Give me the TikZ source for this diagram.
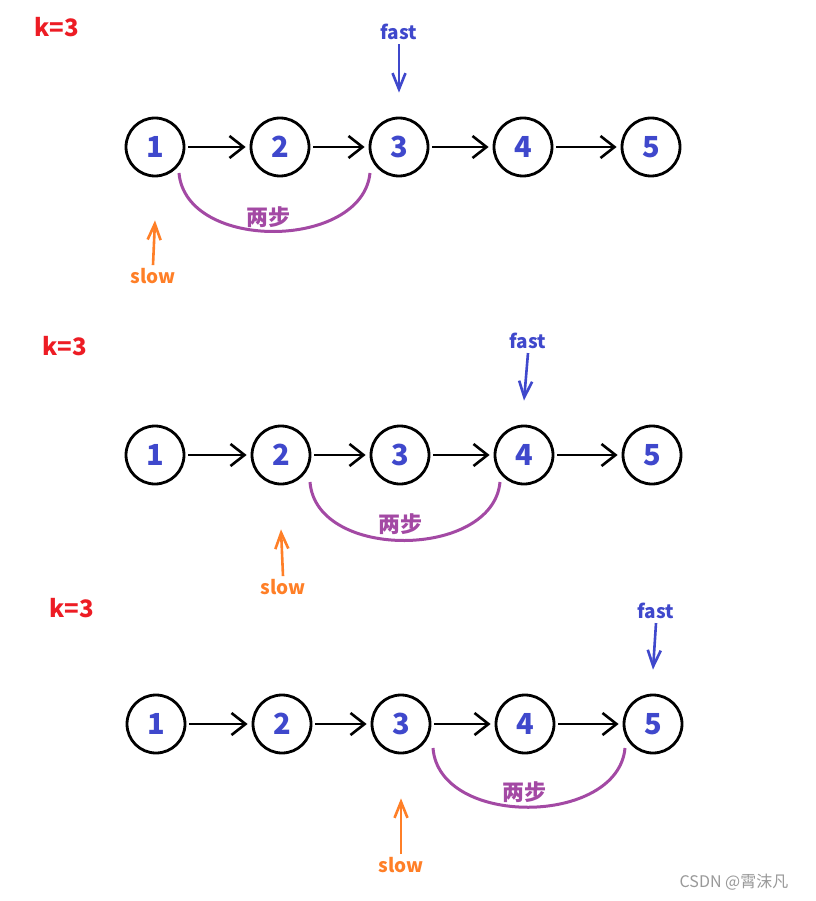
\documentclass[tikz,border=0pt]{standalone}
\usepackage{fontspec}
\setmainfont{Noto Sans CJK SC}
\usetikzlibrary{arrows.meta}
\definecolor{numblue}{HTML}{3F48CC}
\definecolor{kred}{HTML}{ED1C24}
\definecolor{sorange}{HTML}{FF7F27}
\definecolor{spurple}{HTML}{A349A4}
\tikzset{
  listnode/.style={circle, draw=black, line width=2.8pt, minimum size=58pt, inner sep=0pt,
    text=numblue, font=\fontsize{29}{30}\selectfont\bfseries},
  nextlink/.style={line width=2.6pt, -{Straight Barb[length=14pt,width=22pt,line width=2.6pt]},
    shorten <=3pt, shorten >=4pt},
  klabel/.style={text=kred, font=\fontsize{24}{25}\selectfont\bfseries},
  fastlabel/.style={text=numblue, font=\fontsize{19}{20}\selectfont\bfseries, inner sep=1pt},
  slowlabel/.style={text=sorange, font=\fontsize{19}{20}\selectfont\bfseries, inner sep=1pt},
  fastptr/.style={draw=numblue, line width=2.6pt, -{Straight Barb[length=16pt,width=13pt,line width=2.6pt]}},
  slowptr/.style={draw=sorange, line width=2.6pt, -{Straight Barb[length=16pt,width=13pt,line width=2.6pt]}},
  steparc/.style={draw=spurple, line width=3pt},
  steplabel/.style={text=spurple, font=\fontsize{22}{23}\selectfont\bfseries},
  mark wm/.style={text=gray!80, font=\fontsize{16}{17}\selectfont}
}
\begin{document}
\begin{tikzpicture}[x=1pt,y=-1pt]
\useasboundingbox (0,0) rectangle (815,901);
\fill[white] (0,0) rectangle (815,901);

% ---------- Row 1 ----------
\node[klabel] (k1) at (57,27) {k=3};
\node[listnode] (a1) at (155,147) {1};
\node[listnode] (a2) at (280,147) {2};
\node[listnode] (a3) at (399,147) {3};
\node[listnode] (a4) at (523,147) {4};
\node[listnode] (a5) at (651,147) {5};
\draw[nextlink] (a1) -- (a2);
\draw[nextlink] (a2) -- (a3);
\draw[nextlink] (a3) -- (a4);
\draw[nextlink] (a4) -- (a5);
\node[fastlabel] (f1) at (399,32) {fast};
\draw[fastptr] ([yshift=-3pt]f1.south) -- ([yshift=24pt]a3.north);
\node[slowlabel] (s1) at (153,276) {slow};
\draw[slowptr] ([yshift=2pt]s1.north) -- ([yshift=-43pt]a1.south);
\coordinate (a1s) at (179,173);
\coordinate (a3s) at (370,173);
\draw[steparc] (a1s) .. controls (186,252) and (362,250) .. (a3s);
\node[steplabel] (t1) at (268,217) {两步};

% ---------- Row 2 ----------
\node[klabel] (k2) at (65,346) {k=3};
\node[listnode] (b1) at (155,455) {1};
\node[listnode] (b2) at (281,455) {2};
\node[listnode] (b3) at (400,455) {3};
\node[listnode] (b4) at (524,455) {4};
\node[listnode] (b5) at (652,455) {5};
\draw[nextlink] (b1) -- (b2);
\draw[nextlink] (b2) -- (b3);
\draw[nextlink] (b3) -- (b4);
\draw[nextlink] (b4) -- (b5);
\node[fastlabel] (f2) at (528,341) {fast};
\draw[fastptr] ([yshift=-3pt]f2.south) -- ([yshift=24pt]b4.north);
\node[slowlabel] (s2) at (283,587) {slow};
\draw[slowptr] ([yshift=2pt]s2.north) -- ([yshift=-44pt]b2.south);
\coordinate (b2s) at (310,482);
\coordinate (b4s) at (500,482);
\draw[steparc] (b2s) .. controls (316,561) and (493,559) .. (b4s);
\node[steplabel] (t2) at (400,524) {两步};

% ---------- Row 3 ----------
\node[klabel] (k3) at (72,608) {k=3};
\node[listnode] (c1) at (156,724) {1};
\node[listnode] (c2) at (282,724) {2};
\node[listnode] (c3) at (401,724) {3};
\node[listnode] (c4) at (525,724) {4};
\node[listnode] (c5) at (653,724) {5};
\draw[nextlink] (c1) -- (c2);
\draw[nextlink] (c2) -- (c3);
\draw[nextlink] (c3) -- (c4);
\draw[nextlink] (c4) -- (c5);
\node[fastlabel] (f3) at (656,611) {fast};
\draw[fastptr] ([yshift=-3pt]f3.south) -- ([yshift=24pt]c5.north);
\node[slowlabel] (s3) at (401,865) {slow};
\draw[slowptr] ([yshift=2pt]s3.north) -- ([yshift=-44pt]c3.south);
\coordinate (c3s) at (433,748);
\coordinate (c5s) at (625,748);
\draw[steparc] (c3s) .. controls (439,828) and (618,826) .. (c5s);
\node[steplabel] (t3) at (524,792) {两步};

% watermark
\node[mark wm] (wm) at (734,882) {CSDN @霄沫凡};
\end{tikzpicture}
\end{document}
